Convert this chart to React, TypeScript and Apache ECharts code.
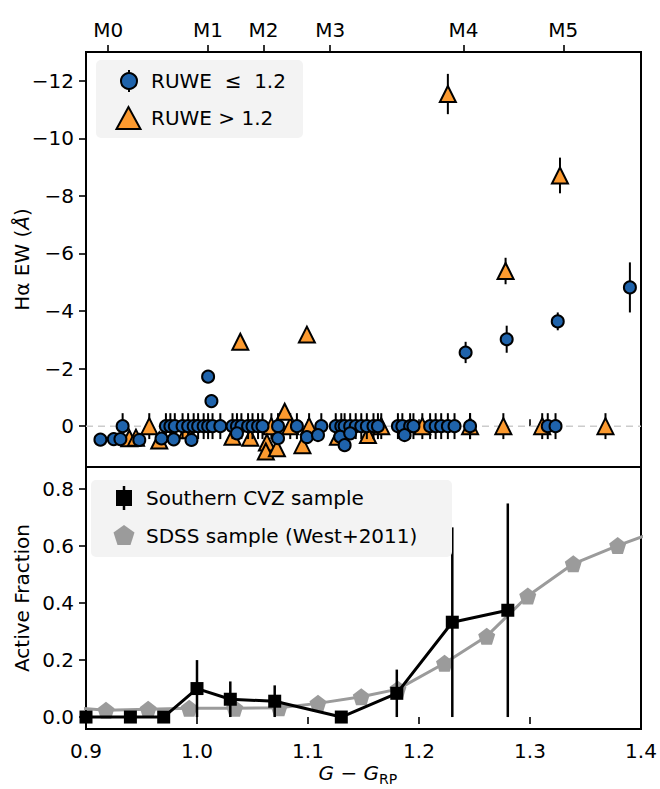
import React, { useEffect, useRef } from "react";
import * as echarts from "echarts";

// ---------- data ----------
const X_MIN = 0.9;
const X_MAX = 1.4;
const colorTicks = [0.9, 1.0, 1.1, 1.2, 1.3, 1.4];
const spTypeLabels = ["M0", "M1", "M2", "M3", "M4", "M5"];
const spTypeColors = [0.92, 1.01, 1.06, 1.12, 1.24, 1.33];
const ewTicks = [-12, -10, -8, -6, -4, -2, 0];
const fracTicks = [0, 0.2, 0.4, 0.6, 0.8];

// [G-G_RP, Halpha EW, error]  RUWE <= 1.2
const lowRuweNull = [
  [0.933, 0, 0.45], [0.972, 0, 0.45], [0.976, 0, 0.45], [0.98, 0, 0.45], [0.987, 0, 0.45],
  [0.992, 0, 0.45], [0.997, 0, 0.45], [1.001, 0, 0.45], [1.006, 0, 0.45], [1.01, 0, 0.45],
  [1.014, 0, 0.45], [1.021, 0, 0.45], [1.032, 0, 0.45], [1.036, 0, 0.45], [1.04, 0, 0.45],
  [1.046, 0, 0.45], [1.05, 0, 0.45], [1.055, 0, 0.45], [1.059, 0, 0.45], [1.073, 0, 0.45],
  [1.09, 0, 0.45], [1.112, 0, 0.45], [1.125, 0, 0.45], [1.13, 0, 0.45], [1.133, 0, 0.45],
  [1.138, 0, 0.45], [1.143, 0, 0.45], [1.148, 0, 0.45], [1.153, 0, 0.45], [1.159, 0, 0.45],
  [1.163, 0, 0.45], [1.181, 0, 0.45], [1.185, 0, 0.45], [1.192, 0, 0.45], [1.195, 0, 0.45],
  [1.21, 0, 0.45], [1.215, 0, 0.45], [1.22, 0, 0.45], [1.226, 0, 0.45], [1.232, 0, 0.45],
  [1.246, 0, 0.45], [1.316, 0, 0.45], [1.323, 0, 0.45],
];
const lowRuweAbs = [
  [0.913, 0.47, 0], [0.925, 0.45, 0], [0.931, 0.45, 0], [0.948, 0.48, 0], [0.968, 0.43, 0],
  [0.979, 0.46, 0], [0.995, 0.48, 0], [1.036, 0.25, 0], [1.073, 0.42, 0], [1.099, 0.38, 0],
  [1.109, 0.31, 0], [1.129, 0.37, 0], [1.133, 0.66, 0], [1.138, 0.25, 0], [1.187, 0.31, 0],
];
const lowRuweEm = [
  [1.01, -1.72, 0], [1.013, -0.87, 0], [1.242, -2.56, 0.37], [1.279, -3.02, 0.47],
  [1.325, -3.64, 0.31], [1.39, -4.82, 0.87],
];

// RUWE > 1.2
const highRuweNull = [
  [0.957, 0, 0.45], [1.067, 0, 0.45], [1.084, 0, 0.45], [1.101, 0, 0.45], [1.166, 0, 0.45],
  [1.203, 0, 0.45], [1.246, 0, 0.45], [1.276, 0, 0.45], [1.311, 0, 0.45], [1.368, 0, 0.45],
];
const highRuweAbs = [
  [0.939, 0.42, 0], [0.945, 0.4, 0], [0.966, 0.5, 0], [0.991, 0.14, 0], [1.032, 0.37, 0],
  [1.048, 0.4, 0], [1.063, 0.57, 0], [1.062, 0.88, 0], [1.072, 0.77, 0], [1.079, -0.5, 0],
  [1.095, 0.66, 0], [1.127, 0.37, 0], [1.154, 0.31, 0],
];
const highRuweEm = [
  [1.039, -2.93, 0], [1.099, -3.18, 0], [1.226, -11.54, 0.7], [1.278, -5.39, 0.46],
  [1.327, -8.71, 0.62],
];

// Active fraction
const cvzColor = [0.9, 0.94, 0.97, 1.0, 1.03, 1.07, 1.13, 1.18, 1.23, 1.28];
const cvzFrac = [0, 0, 0, 0.1, 0.0625, 0.0556, 0, 0.0833, 0.333, 0.375];
const cvzErr = [0, 0, 0, 0.1, 0.0625, 0.0556, 0, 0.0833, 0.333, 0.375];

const sdssColor = [0.88, 0.918, 0.956, 0.993, 1.034, 1.074, 1.109, 1.148, 1.181, 1.223, 1.261, 1.298, 1.339, 1.379, 1.42];
const sdssFrac = [0.035, 0.024, 0.027, 0.031, 0.031, 0.033, 0.048, 0.071, 0.098, 0.189, 0.284, 0.425, 0.538, 0.602, 0.66];

// ---------- styling ----------
const FONT = "'DejaVu Sans', sans-serif";
const BLUE = "#1f63ab";
const ORANGE = "#fc9a2f";
const GRAY = "#9b9b9b";
const PENTAGON = "path://M0,-1 L0.951,-0.309 L0.588,0.809 L-0.588,0.809 L-0.951,-0.309 Z";

const minus = (v: number) => (v < 0 ? "\u2212" + Math.abs(v) : String(v));

function errorBarSeries(points: number[][], xAxisIndex: number, yAxisIndex: number, z: number, width: number) {
  return {
    type: "custom",
    xAxisIndex,
    yAxisIndex,
    z,
    silent: true,
    encode: { x: 0, y: [1, 2] },
    data: points.filter((p) => p[2] > 0).map((p) => [p[0], p[1] - p[2], p[1] + p[2]]),
    renderItem: (params: any, api: any) => {
      const a = api.coord([api.value(0), api.value(1)]);
      const b = api.coord([api.value(0), api.value(2)]);
      return {
        type: "line",
        shape: { x1: a[0], y1: a[1], x2: b[0], y2: b[1] },
        style: { stroke: "#000", lineWidth: width },
      };
    },
  };
}

export default function App() {
  const ref = useRef<HTMLDivElement>(null);
  useEffect(() => {
    if (!ref.current) return;
    const chart = echarts.init(ref.current, undefined, { renderer: "svg" });
    const low = [...lowRuweNull, ...lowRuweAbs, ...lowRuweEm];
    const high = [...highRuweNull, ...highRuweAbs, ...highRuweEm];
    const tickStyle = { color: "#000", width: 1.6 };
    const labelStyle = { color: "#000", fontSize: 20, fontFamily: FONT };
    const cvzPoints = cvzColor.map((x, i) => [x, cvzFrac[i], cvzErr[i]]);

    const option: any = {
      animation: false,
      textStyle: { fontFamily: FONT },
      grid: [
        { left: 86, top: 52, width: 555, height: 415, show: true, borderColor: "#000", borderWidth: 2, backgroundColor: "transparent" },
        { left: 86, top: 467, width: 555, height: 262, show: true, borderColor: "#000", borderWidth: 2, backgroundColor: "transparent" },
      ],
      xAxis: [
        {
          gridIndex: 0, type: "value", min: X_MIN, max: X_MAX, position: "bottom",
          axisLine: { show: false },
          axisTick: { show: true, inside: true, length: 7, lineStyle: tickStyle, customValues: colorTicks },
          axisLabel: { show: false },
          splitLine: { show: false },
        },
        {
          gridIndex: 0, type: "value", min: X_MIN, max: X_MAX, position: "top",
          axisLine: { show: false },
          axisTick: { show: true, length: 7, lineStyle: tickStyle, customValues: spTypeColors },
          axisLabel: {
            ...labelStyle, margin: 12, customValues: spTypeColors,
            formatter: (v: number) => {
              let best = 0;
              spTypeColors.forEach((c, i) => { if (Math.abs(c - v) < Math.abs(spTypeColors[best] - v)) best = i; });
              return spTypeLabels[best];
            },
          },
          splitLine: { show: false },
        },
        {
          gridIndex: 1, type: "value", min: X_MIN, max: X_MAX, position: "bottom",
          axisLine: { show: false },
          axisTick: { show: true, length: 7, lineStyle: tickStyle, customValues: colorTicks },
          axisLabel: { ...labelStyle, margin: 12, customValues: colorTicks, formatter: (v: number) => v.toFixed(1) },
          splitLine: { show: false },
        },
      ],
      yAxis: [
        {
          gridIndex: 0, type: "value", inverse: true, min: -13, max: 1.42,
          axisLine: { show: false },
          axisTick: { show: true, length: 7, lineStyle: tickStyle, customValues: ewTicks },
          axisLabel: { ...labelStyle, margin: 12, customValues: ewTicks, formatter: minus },
          splitLine: { show: false },
        },
        {
          gridIndex: 1, type: "value", min: -0.042, max: 0.878,
          axisLine: { show: false },
          axisTick: { show: true, length: 7, lineStyle: tickStyle, customValues: fracTicks },
          axisLabel: { ...labelStyle, margin: 12, customValues: fracTicks, formatter: (v: number) => v.toFixed(1) },
          splitLine: { show: false },
        },
      ],
      series: [
        {
          type: "line", xAxisIndex: 0, yAxisIndex: 0, z: 1, silent: true, symbol: "none",
          data: [[X_MIN, 0], [X_MAX, 0]],
          lineStyle: { color: "#cccccc", width: 1.5, type: [7, 5] },
        },
        errorBarSeries(high, 0, 0, 2, 2),
        {
          type: "scatter", xAxisIndex: 0, yAxisIndex: 0, z: 3, symbol: "triangle", symbolSize: 16,
          data: high.map((p) => [p[0], p[1]]),
          itemStyle: { color: ORANGE, borderColor: "#000", borderWidth: 2, opacity: 1 },
        },
        errorBarSeries(low, 0, 0, 4, 2),
        {
          type: "scatter", xAxisIndex: 0, yAxisIndex: 0, z: 5, symbol: "circle", symbolSize: 12,
          data: low.map((p) => [p[0], p[1]]),
          itemStyle: { color: BLUE, borderColor: "#000", borderWidth: 2, opacity: 1 },
        },
        {
          type: "line", xAxisIndex: 2, yAxisIndex: 1, z: 2, clip: true,
          data: sdssColor.map((x, i) => [x, sdssFrac[i]]),
          symbol: PENTAGON, symbolSize: 17, showAllSymbol: true,
          lineStyle: { color: GRAY, width: 3 },
          itemStyle: { color: GRAY, borderWidth: 0, opacity: 1 },
        },
        errorBarSeries(cvzPoints, 2, 1, 3, 2.5),
        {
          type: "line", xAxisIndex: 2, yAxisIndex: 1, z: 4,
          data: cvzPoints.map((p) => [p[0], p[1]]),
          symbol: "rect", symbolSize: 13, showAllSymbol: true,
          lineStyle: { color: "#000", width: 3 },
          itemStyle: { color: "#000", borderWidth: 0, opacity: 1 },
        },
      ],
      graphic: [
        // top legend
        { type: "rect", z: 100, shape: { x: 96, y: 60, width: 207, height: 78, r: 5 }, style: { fill: "#f3f3f3" } },
        { type: "line", z: 101, shape: { x1: 129, y1: 70, x2: 129, y2: 92 }, style: { stroke: "#000", lineWidth: 2 } },
        { type: "circle", z: 102, shape: { cx: 129, cy: 81, r: 8 }, style: { fill: BLUE, stroke: "#000", lineWidth: 2 } },
        { type: "text", z: 102, x: 151, y: 81, style: { text: "RUWE  \u2264  1.2", fontSize: 20, fontFamily: FONT, fill: "#000", align: "left", verticalAlign: "middle", textAlign: "left", textVerticalAlign: "middle" } },
        { type: "polygon", z: 102, shape: { points: [[128.5, 107], [116.5, 129], [140.5, 129]] }, style: { fill: ORANGE, stroke: "#000", lineWidth: 2 } },
        { type: "text", z: 102, x: 151, y: 118, style: { text: "RUWE > 1.2", fontSize: 20, fontFamily: FONT, fill: "#000", align: "left", verticalAlign: "middle", textAlign: "left", textVerticalAlign: "middle" } },
        // bottom legend
        { type: "rect", z: 100, shape: { x: 91, y: 480, width: 361, height: 77, r: 5 }, style: { fill: "#f3f3f3" } },
        { type: "line", z: 101, shape: { x1: 124, y1: 486, x2: 124, y2: 510 }, style: { stroke: "#000", lineWidth: 2.5 } },
        { type: "rect", z: 102, shape: { x: 116, y: 490, width: 16, height: 16 }, style: { fill: "#000" } },
        { type: "text", z: 102, x: 146, y: 498, style: { text: "Southern CVZ sample", fontSize: 20, fontFamily: FONT, fill: "#000", align: "left", verticalAlign: "middle", textAlign: "left", textVerticalAlign: "middle" } },
        { type: "polygon", z: 102, shape: { points: [[124, 525], [134.5, 532.6], [130.5, 544.9], [117.5, 544.9], [113.5, 532.6]] }, style: { fill: GRAY } },
        { type: "text", z: 102, x: 146, y: 536, style: { text: "SDSS sample (West+2011)", fontSize: 20, fontFamily: FONT, fill: "#000", align: "left", verticalAlign: "middle", textAlign: "left", textVerticalAlign: "middle" } },
        // axis titles
        {
          type: "text", z: 102, x: 22, y: 259.5, rotation: Math.PI / 2,
          style: {
            text: "{n|H\u03b1 EW (}{i|\u00c5}{n|)}",
            align: "center", verticalAlign: "middle", textAlign: "center", textVerticalAlign: "middle",
            rich: {
              n: { fontSize: 20, fontFamily: FONT, fill: "#000", color: "#000" },
              i: { fontSize: 20, fontFamily: FONT, fontStyle: "italic", fill: "#000", color: "#000" },
            },
          },
        },
        {
          type: "text", z: 102, x: 22, y: 598, rotation: Math.PI / 2,
          style: { text: "Active Fraction", fontSize: 20, fontFamily: FONT, fill: "#000", align: "center", verticalAlign: "middle", textAlign: "center", textVerticalAlign: "middle" },
        },
        {
          type: "text", z: 102, x: 379, y: 773,
          style: { text: "G \u2212 G", fontSize: 20, fontFamily: FONT, fontStyle: "italic", fill: "#000", align: "right", verticalAlign: "middle", textAlign: "right", textVerticalAlign: "middle" },
        },
        {
          type: "text", z: 102, x: 379, y: 779,
          style: { text: "RP", fontSize: 14, fontFamily: FONT, fill: "#000", align: "left", verticalAlign: "middle", textAlign: "left", textVerticalAlign: "middle" },
        },
      ],
    };
    chart.setOption(option);
    return () => chart.dispose();
  }, []);
  return <div ref={ref} style={{ position: "absolute", left: 0, top: 0, width: 660, height: 789 }} />;
}
